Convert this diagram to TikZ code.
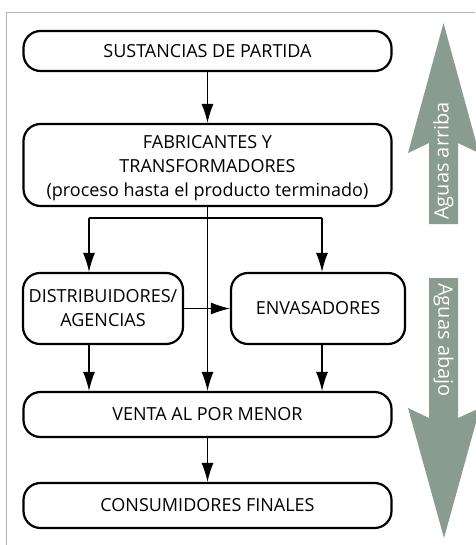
\documentclass[tikz,border=0pt]{standalone}
\usepackage{fontspec}
\setmainfont{Open Sans}
\usetikzlibrary{arrows.meta}
\definecolor{sage}{HTML}{8A9B8F}
\tikzstyle{stage} = [draw, line width=2.2pt, rounded corners=17pt, align=center, inner sep=0pt]
\tikzstyle{flow} = [line width=1.1pt, -{Latex[length=19pt,width=12pt]}]
\tikzstyle{tide} = [text=white, font=\fontsize{20}{22}\selectfont, inner sep=0pt]

\begin{document}
\begin{tikzpicture}[x=1pt, y=-1pt, font=\fontsize{18}{24}\selectfont]
\useasboundingbox (0,0) rectangle (475,545);
% frame
\draw[sage!70, line width=0.8pt] (475,12) -- (6,12) -- (6,545);

% upstream / downstream bands
\fill[sage] (429,224) -- (429,143) -- (408,153) -- (443.5,23) -- (479,153) -- (458,143) -- (458,224) -- cycle;
\fill[sage] (429,278) -- (429,418) -- (408,408) -- (444,538) -- (480,408) -- (458,418) -- (458,278) -- cycle;
\node[tide, rotate=90] (up) at (443.5,161) {Aguas arriba};
\node[tide, rotate=-90] (down) at (443.5,340) {Aguas abajo};

% stages
\node[stage, minimum width=368pt, minimum height=40pt] (sust) at (207.5,51) {SUSTANCIAS DE PARTIDA};
\node[stage, minimum width=368pt, minimum height=82pt] (fab) at (207.5,165)
  {\raisebox{-3pt}[\height][\depth]{\begin{tabular}{@{}c@{}}FABRICANTES Y\\TRANSFORMADORES\\(proceso hasta el producto terminado)\end{tabular}}};
\node[stage, minimum width=160pt, minimum height=71pt] (dist) at (103,308.5) {DISTRIBUIDORES/\\AGENCIAS};
\node[stage, minimum width=174pt, minimum height=71pt] (env) at (318,308.5) {ENVASADORES};
\node[stage, minimum width=368pt, minimum height=45pt] (venta) at (207.5,414.5) {VENTA AL POR MENOR};
\node[stage, minimum width=368pt, minimum height=45pt] (cons) at (207.5,505.5) {CONSUMIDORES FINALES};

% connectors
\coordinate (forkL) at (89,218);
\coordinate (forkR) at (322,218);
\draw[flow] (sust) -- (fab);
\draw[flow] (fab.south) -- (venta.north);
\draw[line width=1.1pt] (forkL) -- (forkR);
\draw[flow] (forkL) -- (forkL |- dist.north);
\draw[flow] (forkR) -- (forkR |- env.north);
\draw[flow] (dist.east) -- (env.west);
\draw[flow] (forkL |- dist.south) -- (forkL |- venta.north);
\draw[flow] (forkR |- env.south) -- (forkR |- venta.north);
\draw[flow] (venta) -- (cons);
\end{tikzpicture}
\end{document}
